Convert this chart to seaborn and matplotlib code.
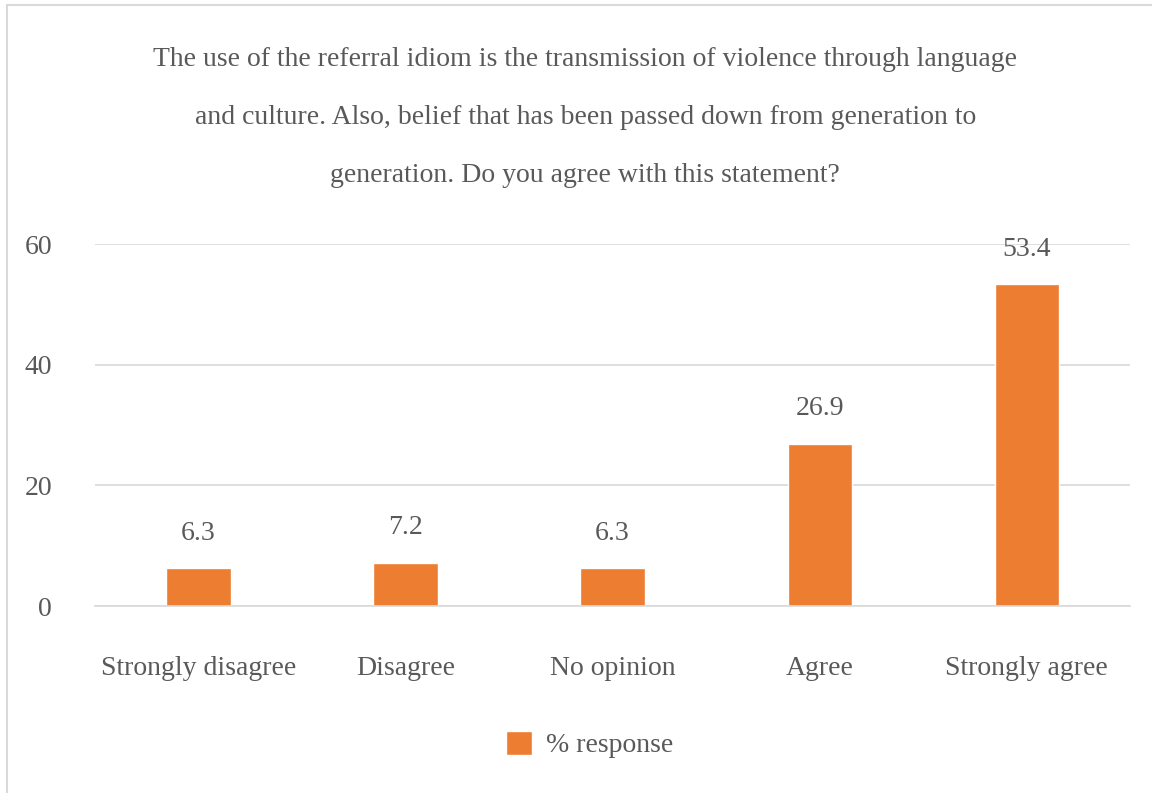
import seaborn as sns
import pandas as pd
import matplotlib.pyplot as plt
from matplotlib.patches import Rectangle

categories = ['Strongly disagree', 'Disagree', 'No opinion', 'Agree', 'Strongly agree']
values = [6.3, 7.2, 6.3, 26.9, 53.4]
series_name = '% response'
y_ticks = [0, 20, 40, 60]
title = ('The use of the referral idiom is the transmission of violence through language\n'
         'and culture. Also, belief that has been passed down from generation to\n'
         'generation. Do you agree with this statement?')

text_color = '#595959'
bar_color = '#ED7D31'
fs = 20

sns.set_style('white')
plt.rcParams['font.family'] = ['Liberation Serif', 'DejaVu Serif']

df = pd.DataFrame({'category': categories, 'value': values})

fig = plt.figure(figsize=(11.52, 7.93), dpi=100)
ax = fig.add_axes([0.0825, 0.2358, 0.8985, 0.4565])
sns.barplot(data=df, x='category', y='value', color=bar_color, width=0.31,
            label=series_name, ax=ax, saturation=1)

ax.set_ylim(0, 60)
ax.set_yticks(y_ticks)
ax.yaxis.grid(True, color='#d9d9d9', linewidth=1.2)
ax.set_axisbelow(True)
for side in ['top', 'right', 'left']:
    ax.spines[side].set_visible(False)
ax.spines['bottom'].set_color('#d9d9d9')
ax.spines['bottom'].set_linewidth(1.2)
ax.set_xlabel('')
ax.set_ylabel('')
ax.tick_params(axis='both', length=0, labelsize=fs, labelcolor=text_color)
ax.tick_params(axis='x', pad=36)
ax.tick_params(axis='y', pad=31)

ax.bar_label(ax.containers[0], fmt='%.1f', padding=16, fontsize=fs, color=text_color)

fig.text(0.508, 0.941, title, ha='center', va='top', fontsize=fs, color=text_color,
         linespacing=2.74)

leg = ax.legend(loc='center', bbox_to_anchor=(0.512, 0.061), bbox_transform=fig.transFigure,
                frameon=False, fontsize=fs, labelcolor=text_color, handlelength=0.95,
                handleheight=0.95, handletextpad=0.5)

fig.patches.append(Rectangle((7 / 1152, -0.01), 1.1, 1 - 5 / 793 + 0.01,
                             transform=fig.transFigure, fill=False,
                             edgecolor='#d9d9d9', linewidth=1.5))

fig.savefig('out.png', dpi=100)
